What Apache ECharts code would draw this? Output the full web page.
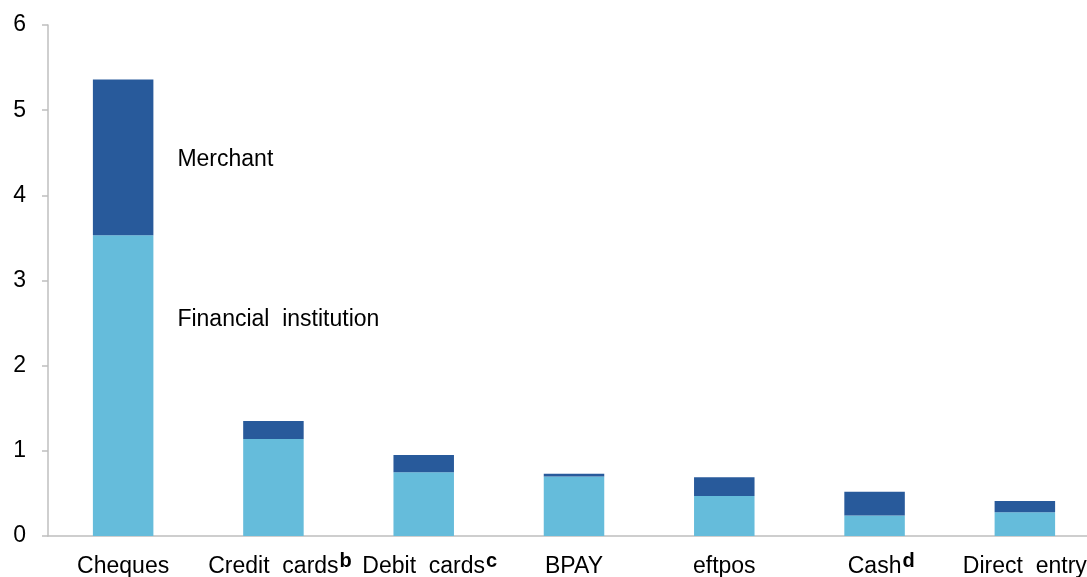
<!DOCTYPE html>
<html>
<head>
<meta charset="utf-8">
<script src="https://cdn.jsdelivr.net/npm/echarts@6/dist/echarts.min.js"></script>
<style>
html,body{margin:0;padding:0;background:#fff;}
#chart{width:1087px;height:577px;}
</style>
</head>
<body>
<div id="chart"></div>
<script>
const categories = ['Cheques', 'Credit  cards', 'Debit  cards', 'BPAY', 'eftpos', 'Cash', 'Direct  entry'];
const superscripts = ['', 'b', 'c', '', '', 'd', ''];
const financialInstitution = [3.53, 1.14, 0.75, 0.70, 0.47, 0.24, 0.28];
const merchant = [1.83, 0.21, 0.20, 0.03, 0.22, 0.28, 0.13];
const yTicks = [0, 1, 2, 3, 4, 5, 6];
const seriesNames = ['Financial  institution', 'Merchant'];

const FONT = '"Liberation Sans", Arial, sans-serif';
const chart = echarts.init(document.getElementById('chart'), null, {renderer: 'canvas'});

const option = {
  animation: false,
  backgroundColor: '#ffffff',
  grid: {left: 48, top: 25, bottom: 41, width: 1052, containLabel: false, outerBoundsMode: 'none'},
  xAxis: {
    type: 'category',
    data: categories,
    axisLine: {lineStyle: {color: '#BFBFBF', width: 1.5}},
    axisTick: {show: false},
    axisLabel: {
      interval: 0,
      margin: 15,
      hideOverlap: false,
      color: '#000',
      fontFamily: FONT,
      fontSize: 23,
      formatter: function (value, idx) {
        const s = superscripts[idx];
        if (!s) return '{sp|b}' + value + '{sp|b}';
        return '{sp|' + s + '}' + value + '{sup|' + s + '}';
      },
      rich: {
        sup: {fontFamily: FONT, fontSize: 20, fontWeight: 'bold', color: '#000', padding: [0, 0, 12, 1]},
        sp: {fontFamily: FONT, fontSize: 20, fontWeight: 'bold', color: 'rgba(0,0,0,0)', padding: [0, 1, 12, 0]}
      }
    }
  },
  yAxis: {
    type: 'value',
    min: yTicks[0],
    max: yTicks[yTicks.length - 1],
    interval: 1,
    splitLine: {show: false},
    axisLine: {show: true, lineStyle: {color: '#BFBFBF', width: 1.5}},
    axisTick: {show: true, length: 6, lineStyle: {color: '#BFBFBF', width: 1.5}},
    axisLabel: {color: '#000', fontFamily: FONT, fontSize: 23, margin: 22}
  },
  series: [
    {
      name: seriesNames[0],
      type: 'bar',
      stack: 'total',
      barWidth: 60.5,
      itemStyle: {color: '#65BCDB'},
      data: financialInstitution.map((v, i) => i === 0 ? {
        value: v,
        label: {show: true, position: 'right', distance: 24, offset: [0, -66],
          formatter: seriesNames[0], color: '#000', fontFamily: FONT, fontSize: 23}
      } : v)
    },
    {
      name: seriesNames[1],
      type: 'bar',
      stack: 'total',
      barWidth: 60.5,
      itemStyle: {color: '#285A9B'},
      data: merchant.map((v, i) => i === 0 ? {
        value: v,
        label: {show: true, position: 'right', distance: 24, offset: [0, 2],
          formatter: seriesNames[1], color: '#000', fontFamily: FONT, fontSize: 23}
      } : v)
    }
  ]
};
chart.setOption(option);
</script>
</body>
</html>
